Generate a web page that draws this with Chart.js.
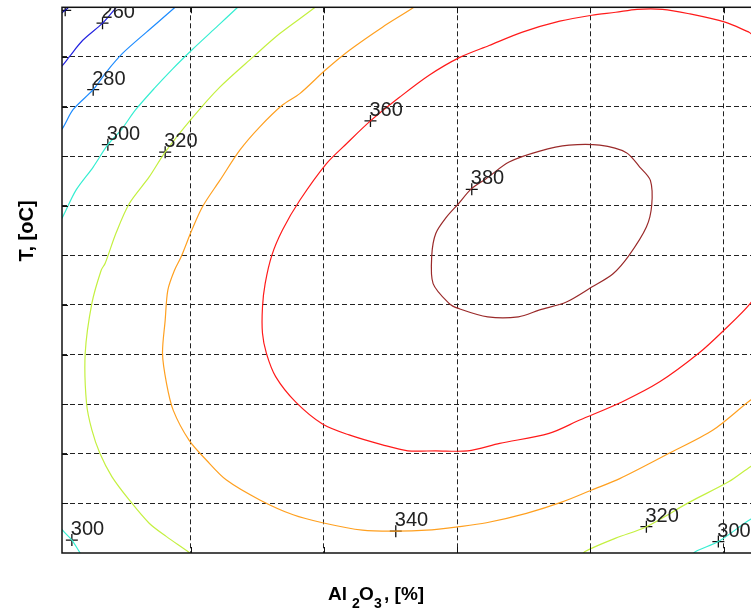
<!DOCTYPE html>
<html>
<head>
<meta charset="utf-8">
<script src="https://cdn.jsdelivr.net/npm/chart.js@4/dist/chart.umd.min.js"></script>
<style>
  html, body { margin: 0; padding: 0; background: #fff; overflow: hidden; }
  #wrap { width: 751px; height: 609px; overflow: hidden; position: relative; }
  canvas { position: absolute; left: 0; top: 0; }
</style>
</head>
<body>
<div id="wrap"><canvas id="myChart" width="870" height="609"></canvas></div>
<script>
// contour lines, [x, y] in grid units (x: Al2O3, y: T)
let contour240 = [[0.02,10.86],[0.06,10.94],[0.11,11.06]];
let contour260 = [[0.0,9.73],[0.04,9.83],[0.09,10.0],[0.19,10.33],[0.34,10.68],[0.44,10.99],[0.47,11.1]];
let contour280 = [[0.0,8.46],[0.04,8.56],[0.12,8.94],[0.27,9.34],[0.37,9.70],[0.49,10.07],[0.67,10.50],[0.88,10.99],[0.92,11.10]];
let contour300a = [[1.39,11.10],[1.35,10.99],[1.17,10.54],[1.01,10.14],[0.87,9.77],[0.73,9.37],[0.59,8.94],[0.48,8.53],[0.38,8.23],[0.27,7.78],[0.14,7.31],[0.04,6.77],[0.0,6.61]];
let contour300b = [[-0.02,0.71],[0.04,0.46],[0.11,0.26],[0.17,0.01],[0.2,-0.1]];
let contour300c = [[4.74,-0.10],[4.79,0.03],[4.96,0.23],[5.19,0.66],[5.57,1.27],[6.02,2.07]];
let contour320a = [[1.97,11.10],[1.93,10.99],[1.67,10.47],[1.47,10.00],[1.22,9.39],[1.01,8.76],[0.81,8.08],[0.69,7.58],[0.54,7.04],[0.44,6.44],[0.36,5.84],[0.33,5.70],[0.26,5.03],[0.21,4.02],[0.22,3.02],[0.26,2.48],[0.32,2.01],[0.41,1.54],[0.54,1.07],[0.69,0.60],[0.82,0.33],[0.99,0.01],[1.04,-0.10]];
let contour320b = [[3.92,-0.10],[3.96,0.03],[4.19,0.30],[4.42,0.53],[4.74,1.02],[5.04,1.44],[5.20,1.74],[5.57,2.38],[6.02,3.18]];
let contour340 = [[2.72,11.10],[2.67,10.99],[2.44,10.60],[2.19,10.13],[2.01,9.73],[1.82,9.26],[1.69,9.03],[1.52,8.59],[1.37,8.12],[1.22,7.51],[1.09,6.98],[1.01,6.51],[0.93,5.97],[0.88,5.70],[0.83,5.30],[0.81,4.69],[0.79,4.02],[0.82,3.42],[0.87,2.88],[0.99,2.27],[1.12,1.87],[1.27,1.47],[1.52,1.07],[1.77,0.77],[1.99,0.61],[2.29,0.46],[2.54,0.44],[2.77,0.46],[3.01,0.53],[3.22,0.61],[3.52,0.80],[3.79,1.03],[4.01,1.27],[4.22,1.50],[4.59,2.01],[4.92,2.48],[5.20,3.08],[5.57,3.79],[6.02,4.69]];
let contour360 = [[5.19,10.50],[5.01,10.70],[4.74,10.87],[4.54,10.96],[4.35,10.96],[4.19,10.90],[4.01,10.84],[3.77,10.72],[3.49,10.50],[3.24,10.23],[3.02,9.99],[2.79,9.63],[2.57,9.19],[2.35,8.71],[2.17,8.25],[2.02,7.85],[1.82,7.11],[1.69,6.51],[1.61,6.00],[1.56,5.43],[1.54,4.96],[1.54,4.43],[1.57,4.02],[1.64,3.55],[1.79,3.04],[1.99,2.60],[2.19,2.38],[2.44,2.18],[2.63,2.06],[2.84,2.06],[3.08,2.06],[3.32,2.21],[3.69,2.41],[3.92,2.68],[4.24,3.05],[4.52,3.45],[4.81,4.02],[4.99,4.46],[5.20,5.03],[5.42,5.90],[5.57,7.11],[5.64,8.52],[5.53,9.73],[5.19,10.50]];
let contour380 = [[3.01,7.04],[3.11,7.35],[3.22,7.55],[3.39,7.88],[3.62,8.10],[3.84,8.22],[4.07,8.22],[4.27,8.07],[4.37,7.78],[4.45,7.51],[4.46,7.01],[4.42,6.57],[4.29,6.00],[4.17,5.63],[4.01,5.36],[3.82,5.06],[3.62,4.90],[3.46,4.76],[3.23,4.76],[3.01,4.93],[2.94,5.03],[2.82,5.43],[2.81,6.00],[2.84,6.44],[2.92,6.77],[3.01,7.04]];

// "+" label markers and their texts
let markerPoints = [[0.06,10.94],[0.34,10.68],[0.27,9.34],[0.38,8.23],[0.81,8.08],[2.35,8.71],[3.11,7.33],[0.11,0.26],[2.54,0.44],[4.42,0.53],[4.96,0.23]];
let markerLabels = ['240','260','280','300','320','360','380','300','340','320','300'];

let xTicks = [1, 2, 3, 4, 5];
let yTicks = [1, 2, 3, 4, 5, 6, 7, 8, 9, 10];

function pts(arr) {
    return arr.map(p => ({x: p[0], y: p[1]}));
}

function line(arr, color) {
    return {
        data: pts(arr),
        showLine: true,
        borderColor: color,
        backgroundColor: color,
        borderWidth: 1.2,
        pointRadius: 0,
        tension: 0.3,
        fill: false
    };
}

let datasets = [
    line(contour240, '#00009C'),
    line(contour260, '#2424E0'),
    line(contour280, '#1E8CFF'),
    line(contour300a, '#36EED2'),
    line(contour300b, '#36EED2'),
    line(contour300c, '#36EED2'),
    line(contour320a, '#C4F040'),
    line(contour320b, '#C4F040'),
    line(contour340, '#FFA020'),
    line(contour360, '#FF1A1A'),
    line(contour380, '#9A2A2A'),
    {
        data: pts(markerPoints),
        showLine: false,
        pointStyle: 'cross',
        pointRadius: 6,
        borderColor: '#111',
        backgroundColor: '#111',
        pointBorderColor: '#111',
        pointBackgroundColor: '#111',
        pointBorderWidth: 1.3,
        clip: 0
    }
];
let markerIndex = datasets.length - 1;

// frame, inner tick marks, contour labels, axis titles
let decor = {
    id: 'decor',
    afterDatasetsDraw(chart) {
        let ctx = chart.ctx;
        let a = chart.chartArea;
        let xs = chart.scales.x, ys = chart.scales.y;

        ctx.save();
        ctx.strokeStyle = '#111';
        ctx.lineWidth = 1;
        ctx.beginPath();
        xTicks.forEach(v => {
            let px = Math.round(xs.getPixelForValue(v)) + 0.5;
            ctx.moveTo(px, a.top); ctx.lineTo(px, a.top + 6);
            ctx.moveTo(px, a.bottom); ctx.lineTo(px, a.bottom - 6);
        });
        yTicks.forEach(v => {
            let py = Math.round(ys.getPixelForValue(v)) + 0.5;
            ctx.moveTo(a.left, py); ctx.lineTo(a.left + 6, py);
        });
        ctx.stroke();
        ctx.lineWidth = 1.5;
        ctx.strokeRect(a.left, a.top, a.right - a.left, a.bottom - a.top);
        ctx.restore();

        let meta = chart.getDatasetMeta(markerIndex);
        ctx.save();
        ctx.beginPath();
        ctx.rect(a.left, a.top, a.right - a.left, a.bottom - a.top);
        ctx.clip();
        ctx.font = '20px "Liberation Sans", Arial, sans-serif';
        ctx.fillStyle = '#222';
        ctx.textBaseline = 'alphabetic';
        meta.data.forEach((pt, i) => {
            ctx.fillText(markerLabels[i], pt.x - 1, pt.y - 5);
        });
        ctx.restore();
    },
    afterDraw(chart) {
        let ctx = chart.ctx;
        ctx.save();
        ctx.fillStyle = '#000';
        ctx.textBaseline = 'alphabetic';
        ctx.textAlign = 'left';
        let big = 'bold 19px "Liberation Sans", Arial, sans-serif';
        let small = 'bold 14px "Liberation Sans", Arial, sans-serif';
        ctx.font = big; ctx.fillText('Al', 328, 600);
        ctx.font = small; ctx.fillText('2', 352, 608);
        ctx.font = big; ctx.fillText('O', 359, 600);
        ctx.font = small; ctx.fillText('3', 374, 608);
        ctx.font = big; ctx.fillText(', [%]', 384, 600);

        ctx.translate(33, 231);
        ctx.rotate(-Math.PI / 2);
        ctx.textAlign = 'center';
        ctx.font = 'bold 20px "Liberation Sans", Arial, sans-serif';
        ctx.fillText('T, [oC]', 0, 0);
        ctx.restore();
    }
};

document.addEventListener("DOMContentLoaded", function () {
    let ctx = document.getElementById('myChart').getContext('2d');

    new Chart(ctx, {
        type: 'scatter',
        data: { datasets: datasets },
        options: {
            responsive: false,
            animation: false,
            layout: { padding: { left: 62, top: 7, right: 13, bottom: 56 } },
            plugins: {
                legend: { display: false },
                tooltip: { enabled: false }
            },
            scales: {
                x: {
                    type: 'linear',
                    min: 0.036,
                    max: 6,
                    afterBuildTicks: s => { s.ticks = xTicks.map(v => ({value: v})); },
                    ticks: { display: false },
                    grid: { drawTicks: false, color: '#222', lineWidth: 1 },
                    border: { display: false, dash: [5, 3] }
                },
                y: {
                    type: 'linear',
                    min: 0,
                    max: 11,
                    afterBuildTicks: s => { s.ticks = yTicks.map(v => ({value: v})); },
                    ticks: { display: false },
                    grid: { drawTicks: false, color: '#222', lineWidth: 1 },
                    border: { display: false, dash: [5, 3] }
                }
            }
        },
        plugins: [decor]
    });
});
</script>
</body>
</html>
